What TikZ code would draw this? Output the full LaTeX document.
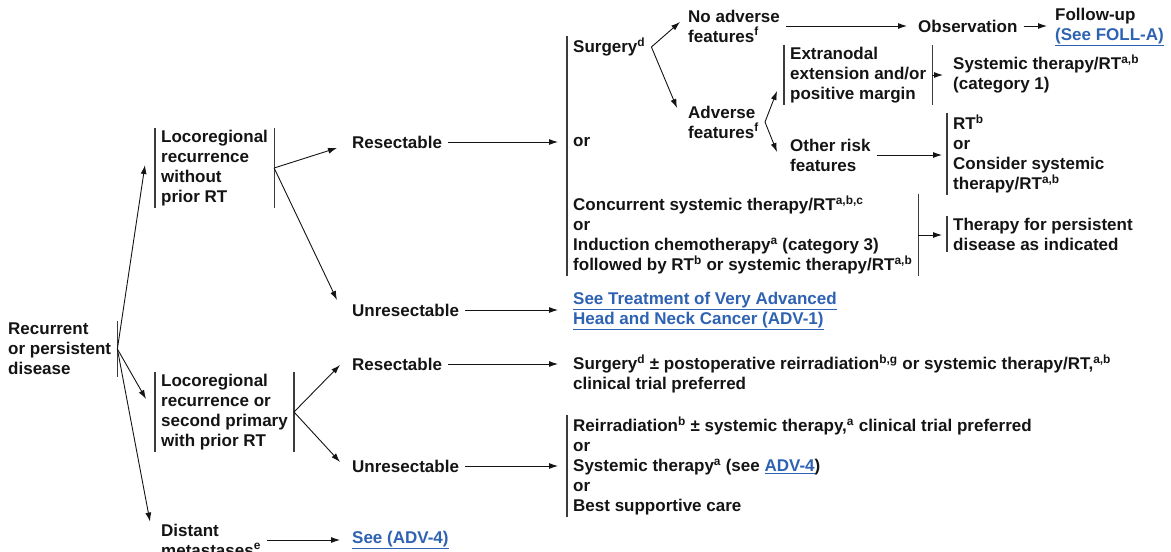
\documentclass[tikz,border=0pt]{standalone}
\usepackage{fontspec}
\setmainfont{Liberation Sans}
\usepackage{tikz}
\usetikzlibrary{arrows.meta, positioning}
\definecolor{nccnblue}{RGB}{46,98,178}
\definecolor{nccnink}{RGB}{20,20,20}
\definecolor{nccnbar}{RGB}{60,60,60}
\newcommand{\lnk}[1]{{\color{nccnblue}\underline{#1}}}
\newcommand{\sups}[1]{\textsuperscript{#1}}

\begin{document}
\begin{tikzpicture}[x=1pt, y=-1pt,
  txt/.style={anchor=west, align=left, inner xsep=6pt, inner ysep=2pt, text=nccnink, font=\bfseries\fontsize{17}{20}\selectfont},
  bar/.style={draw=nccnbar, line width=1.2pt},
  arrow/.style={-{Latex[length=9pt,width=6pt]}, line width=0.9pt, draw=nccnink}
]
\useasboundingbox (0,0) rectangle (1171,552);
\clip (0,0) rectangle (1171,552);

% first column
\node[txt] (rec) at (2,349) {Recurrent\\or persistent\\disease};
\node[txt] (lr1) at (155,168) {Locoregional\\recurrence\\without\\prior RT};
\node[txt] (lr2) at (155,412) {Locoregional\\recurrence or\\second primary\\with prior RT};
\node[txt] (dm) at (155,540) {Distant\\metastases\sups{e}};

% resectability
\node[txt] (res1) at (346,142) {Resectable};
\node[txt] (unres1) at (346,310) {Unresectable};
\node[txt] (res2) at (346,364) {Resectable};
\node[txt] (unres2) at (346,466) {Unresectable};
\node[txt] (see4) at (346,540) {\lnk{See (ADV-4)}};

% treatment
\node[txt] (surg1) at (567,47) {Surgery\sups{d}};
\node[txt] (or1) at (567,142) {or};
\node[txt] (conc) at (567,235) {Concurrent systemic therapy/RT\sups{a,b,c}\\or\\Induction chemotherapy\sups{a} (category 3)\\followed by RT\sups{b} or systemic therapy/RT\sups{a,b}};
\node[txt] (adv1) at (567,311) {\lnk{See Treatment of Very Advanced}\\\lnk{Head and Neck Cancer (ADV-1)}};
\node[txt] (surg2) at (567,374) {Surgery\sups{d} ± postoperative reirradiation\sups{b,g} or systemic therapy/RT,\sups{a,b}\\clinical trial preferred};
\node[txt] (reirr) at (567,466) {Reirradiation\sups{b} ± systemic therapy,\sups{a} clinical trial preferred\\or\\Systemic therapy\sups{a} (see \lnk{ADV-4})\\or\\Best supportive care};

% after surgery
\node[txt] (noadv) at (682,26) {No adverse\\features\sups{f}};
\node[txt] (adv) at (682,122) {Adverse\\features\sups{f}};
\node[txt] (obs) at (912,26) {Observation};
\node[txt] (fol) at (1049,27) {Follow-up\\\lnk{(See FOLL-A)}};
\node[txt] (ext) at (784,75) {Extranodal\\extension and/or\\positive margin};
\node[txt] (sys1) at (947,74) {Systemic therapy/RT\sups{a,b}\\(category 1)};
\node[txt] (oth) at (784,155) {Other risk\\features};
\node[txt] (rt) at (947,154) {RT\sups{b}\\or\\Consider systemic\\therapy/RT\sups{a,b}};
\node[txt] (thp) at (947,234) {Therapy for persistent\\disease as indicated};

% brackets
\draw[bar] (rec.north east) -- (rec.south east);
\draw[bar] (lr1.north west) -- (lr1.south west);
\draw[bar] (lr1.north east) -- (lr1.south east);
\draw[bar] (lr2.north west) -- (lr2.south west);
\draw[bar] (lr2.north east) -- (lr2.south east);
\draw[bar] (surg1.north west) -- (conc.south west);
\draw[bar] (conc.north east) -- (conc.south east);
\draw[bar] (ext.north west) -- (ext.south west);
\draw[bar] (ext.north east) -- (ext.south east);
\draw[bar] (rt.north west) -- (rt.south west);
\draw[bar] (thp.north west) -- (thp.south west);
\draw[bar] (reirr.north west) -- (reirr.south west);

% connectors
\draw[arrow] (rec.east) -- ([xshift=-10pt,yshift=3pt]lr1.west);
\draw[arrow] (rec.east) -- ([xshift=-9pt,yshift=13pt]lr2.west);
\draw[arrow] (rec.east) -- ([xshift=-5pt]dm.north west);
\draw[arrow] (lr1.east) -- ([xshift=-9pt,yshift=-6pt]res1.west);
\draw[arrow] (lr1.east) -- ([xshift=-9pt,yshift=10pt]unres1.west);
\draw[arrow] (lr2.east) -- ([xshift=-6pt,yshift=-1pt]res2.west);
\draw[arrow] (lr2.east) -- ([xshift=-6pt,yshift=4pt]unres2.west);
\draw[arrow] (dm.east) -- ([xshift=-6pt]see4.west);
\draw[arrow, shorten >=9pt] (res1.east) -- (or1.west);
\draw[arrow, shorten >=9pt] (unres1.east) -- (unres1.east -| adv1.west);
\draw[arrow, shorten >=9pt] (res2.east) -- (res2.east -| surg2.west);
\draw[arrow, shorten >=9pt] (unres2.east) -- (unres2.east -| reirr.west);
\draw[arrow] (surg1.east) -- ([xshift=-2pt,yshift=4pt]noadv.west);
\draw[arrow] (surg1.east) -- ([xshift=-5pt,yshift=14pt]adv.west);
\draw[arrow] (adv.east) -- ([xshift=-7pt,yshift=-16pt]ext.west);
\draw[arrow] (adv.east) -- ([xshift=-7pt,yshift=3pt]oth.west);
\draw[arrow, shorten >=5pt] (noadv.east) -- (noadv.east -| obs.west);
\draw[arrow, shorten >=2pt] (obs.east) -- (obs.east -| fol.west);
\draw[arrow, shorten >=4pt] (ext.east) -- (ext.east -| sys1.west);
\draw[arrow, shorten >=5pt] (oth.east) -- (oth.east -| rt.west);
\draw[arrow, shorten >=5pt] (conc.east) -- (conc.east -| thp.west);

\end{tikzpicture}
\end{document}
